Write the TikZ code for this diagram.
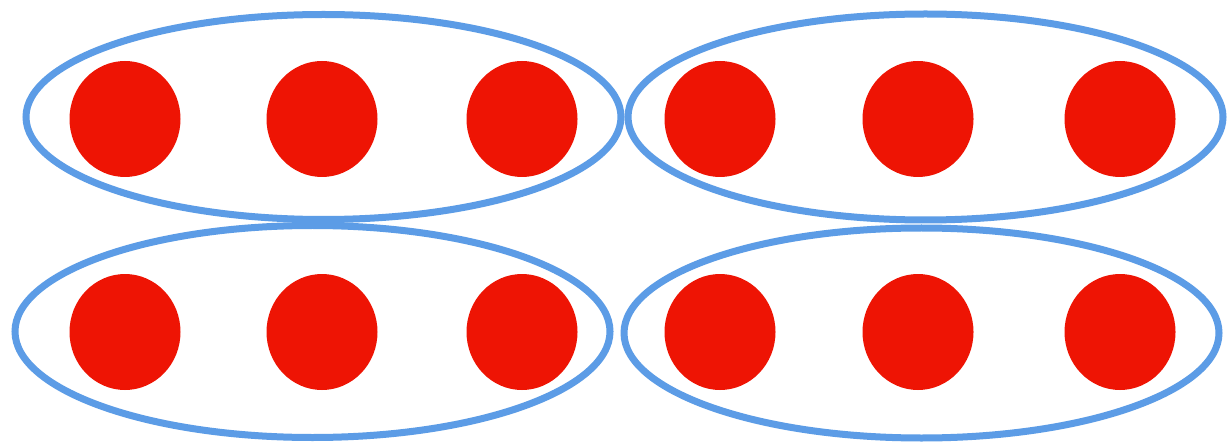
\documentclass[tikz,border=0pt]{standalone}
\usetikzlibrary{shapes.geometric}
\definecolor{ringblue}{RGB}{92,156,230}
\definecolor{dotred}{RGB}{238,20,4}
\tikzset{
  ring/.style={ellipse, draw=ringblue, line width=7pt, inner sep=0pt, minimum width=595pt},
  dot/.style={ellipse, fill=dotred, inner sep=0pt, minimum width=111pt, minimum height=116pt},
}
\begin{document}
\begin{tikzpicture}[x=1pt, y=-1pt]
\useasboundingbox (0,0) rectangle (1228,446);
\fill[white] (0,0) rectangle (1228,446);
% rings
\node[ring, minimum height=205pt] (r1) at (323.5,117) {};
\node[ring, minimum height=206pt] (r2) at (925.5,117) {};
\node[ring, minimum height=212pt] (r3) at (312.5,331.5) {};
\node[ring, minimum height=210pt] (r4) at (921.5,333) {};
% dots top row
\node[dot] (a1) at (125,119) {};
\node[dot] (a2) at (322,119) {};
\node[dot] (a3) at (522,119) {};
\node[dot] (a4) at (720,119) {};
\node[dot] (a5) at (918,119) {};
\node[dot] (a6) at (1120,119) {};
% dots bottom row
\node[dot] (b1) at (125,332) {};
\node[dot] (b2) at (322,332) {};
\node[dot] (b3) at (522,332) {};
\node[dot] (b4) at (720,332) {};
\node[dot] (b5) at (918,332) {};
\node[dot] (b6) at (1120,332) {};
\end{tikzpicture}
\end{document}
